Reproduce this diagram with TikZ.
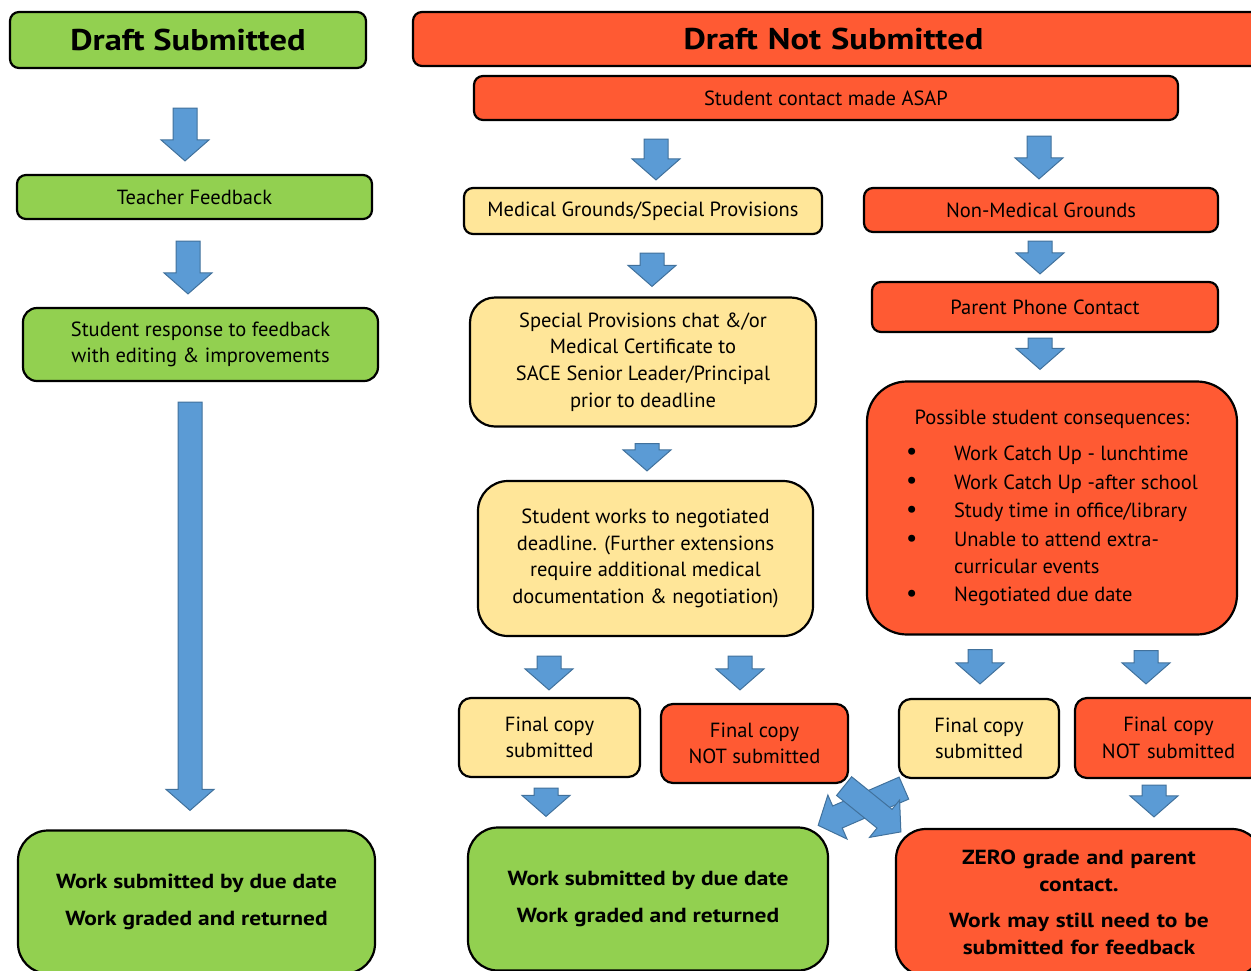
\documentclass[tikz,border=0pt]{standalone}
\usepackage{fontspec}
\setmainfont{PT Sans}[BoldFeatures={FakeStretch=1.15}]
\usetikzlibrary{calc}
\definecolor{gfill}{HTML}{92D050}
\definecolor{rfill}{HTML}{FF5A33}
\definecolor{yfill}{HTML}{FFE699}
\definecolor{arrowblue}{HTML}{5B9BD5}
\definecolor{arrowedge}{HTML}{41719C}
\newcommand{\bul}{\makebox[48pt][l]{\raisebox{0.5pt}{\fontsize{25}{25}\selectfont\textbullet}}}
\tikzset{
  box/.style={draw=black, line width=2.2pt, rounded corners=9pt, align=center, inner sep=0pt,
    font=\fontsize{20.5}{26.7}\selectfont},
  gbox/.style={box, fill=gfill},
  rbox/.style={box, fill=rfill},
  ybox/.style={box, fill=yfill},
  headtext/.style={font=\fontsize{30}{32}\selectfont\bfseries},
  boldtext/.style={font=\fontsize{20.4}{26.5}\selectfont\bfseries},
  blockarrow/.style={draw=arrowedge, fill=arrowblue, line width=1pt, line join=miter,
    to path={let \p1=($(\tikztotarget)-(\tikztostart)$), \n1={veclen(\x1,\y1)}, \n2={atan2(\y1,\x1)} in
      {[shift={(\tikztostart)}, rotate=\n2]
        (0pt,-12pt) -- ({\n1-21pt},-12pt) -- ({\n1-21pt},-24pt) -- ({\n1+0pt},0pt)
        -- ({\n1-21pt},24pt) -- ({\n1-21pt},12pt) -- (0pt,12pt) -- cycle}}}
}
\begin{document}
\begin{tikzpicture}[x=1pt,y=-1pt]
\useasboundingbox (0,0) rectangle (1251,970);
\clip (0,0) rectangle (1251,970);

% headers
\node[gbox, minimum width=356pt, minimum height=56pt, headtext] (ds) at (188,40) {Draft Submitted};
\node[rbox, minimum width=847pt, minimum height=54pt, headtext, text width=847pt] (dns) at (836.5,39) {\hspace*{-6pt}Draft Not Submitted};
\node[rbox, minimum width=704pt, minimum height=44pt] (sc) at (826,98) {Student contact made ASAP};

% left column
\node[gbox, minimum width=355pt, minimum height=44pt] (tf) at (194.5,197) {Teacher Feedback};
\node[gbox, minimum width=355pt, minimum height=73pt, rounded corners=14pt] (sr) at (200.5,344.5) {Student response to feedback\\with editing \& improvements};
\node[gbox, minimum width=357pt, minimum height=143pt, rounded corners=30pt, boldtext] (wb1) at (196.5,902) {Work submitted by due date\\[10pt]Work graded and returned};

% medical column
\node[ybox, minimum width=358pt, minimum height=46pt] (mg) at (643,211) {Medical Grounds/Special Provisions};
\node[ybox, minimum width=346pt, minimum height=129pt, rounded corners=25pt] (sp) at (643,362) {Special Provisions chat \&/or\\Medical Certificate to\\SACE Senior Leader/Principal\\prior to deadline};
\node[ybox, minimum width=335pt, minimum height=155pt, rounded corners=30pt] (sw) at (645.5,558.5) {Student works to negotiated\\deadline. (Further extensions\\require additional medical\\documentation \& negotiation)};
\node[ybox, minimum width=181pt, minimum height=79pt, rounded corners=12pt] (fs1) at (549.5,737.5) {Final copy\\submitted};
\node[rbox, minimum width=187pt, minimum height=79pt, rounded corners=12pt] (fn1) at (754.5,743.5) {Final copy\\NOT submitted};
\node[gbox, minimum width=360pt, minimum height=143pt, rounded corners=30pt, boldtext] (wb2) at (648,899) {Work submitted by due date\\[10pt]Work graded and returned};

% non-medical column
\node[rbox, minimum width=354pt, minimum height=44pt] (nm) at (1041,210) {Non-Medical Grounds};
\node[rbox, minimum width=346pt, minimum height=50pt] (pp) at (1045,307) {Parent Phone Contact};
\node[rbox, minimum width=370pt, minimum height=253pt, rounded corners=40pt] (pc) at (1052,508) {%
  \def\arraystretch{1.0}%
  \begin{tabular}{@{}l@{}}
  \multicolumn{1}{@{}c@{}}{Possible student consequences:}\\[9pt]
  \bul Work Catch Up - lunchtime\\[2pt]
  \bul Work Catch Up -after school\\[2pt]
  \bul Study time in office/library\\[2pt]
  \bul Unable to attend extra-\\
  \makebox[48pt][l]{}curricular events\\[2pt]
  \bul Negotiated due date
  \end{tabular}};
\node[ybox, minimum width=160pt, minimum height=79pt, rounded corners=12pt] (fs2) at (979,738.5) {Final copy\\submitted};
\node[rbox, minimum width=187pt, minimum height=80pt, rounded corners=12pt, text width=187pt] (fn2) at (1168.5,738) {Final copy\\NOT submitted};
\node[rbox, minimum width=366pt, minimum height=147pt, rounded corners=30pt, boldtext, text width=366pt] (zg) at (1079,902.5) {ZERO grade and parent\\contact.\\[10pt]Work may still need to be\\submitted for feedback};

% arrows
\draw[blockarrow] ($(ds.south)+(-3,39)$) to ($(tf.north)+(-9.5,-13)$);
\draw[blockarrow] ($(tf.south)+(-6.5,21)$) to ($(sr.north)+(-12.5,-13)$);
\draw[blockarrow] ($(sr.south)+(-10.5,20)$) to ($(wb1.north)+(-6.5,-19)$);
\draw[blockarrow] ($(sc.south)+(-170,18)$) to ($(mg.north)+(13,-7)$);
\draw[blockarrow] ($(sc.south)+(213,15)$) to ($(nm.north)+(-2,-8)$);
\draw[blockarrow] ($(mg.south)+(9,18)$) to ($(sp.north)+(9,-10)$);
\draw[blockarrow] ($(nm.south)+(-1,8)$) to ($(pp.north)+(-5,-7)$);
\draw[blockarrow] ($(pp.south)+(-5,5)$) to ($(pc.north)+(-12,-11)$);
\draw[blockarrow] ($(sp.south)+(4,16)$) to ($(sw.north)+(1.5,-9)$);
\draw[blockarrow] ($(sw.south)+(-96.5,19)$) to ($(fs1.north)+(-0.5,-7)$);
\draw[blockarrow] ($(sw.south)+(94.5,19)$) to ($(fn1.north)+(-14.5,-13)$);
\draw[blockarrow] ($(pc.south)+(-72,14)$) to ($(fs2.north)+(1,-14)$);
\draw[blockarrow] ($(pc.south)+(94,15)$) to ($(fn2.north)+(-22.5,-13)$);
\draw[blockarrow] ($(fs1.south)+(-3.5,10)$) to ($(wb2.north)+(-102,-10)$);
\draw[blockarrow] ($(fn2.south)+(-14.5,6)$) to ($(zg.north)+(75,-11)$);
\draw[blockarrow] ($(fs2.south west)+(6,9)$) to ($(wb2.north east)+(-11,-1)$);
\draw[blockarrow] ($(fn1.south east)+(-5,2)$) to ($(zg.north west)+(6,4)$);
\end{tikzpicture}
\end{document}
